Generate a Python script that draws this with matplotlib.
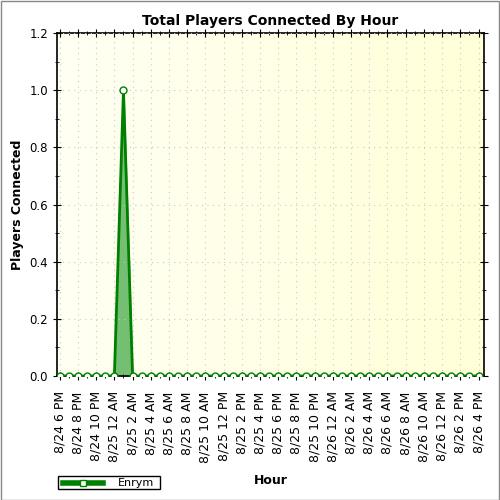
import numpy as np
import matplotlib.pyplot as plt
from matplotlib.lines import Line2D
from matplotlib.patches import Rectangle
from matplotlib.colors import LinearSegmentedColormap

# hours since 8/24 6 PM, one point per hour
horas = list(range(0, 47))
jugadores = [0] * 47
jugadores[7] = 1  # 8/25 1 AM

etiquetas = ["8/24 6 PM", "8/24 8 PM", "8/24 10 PM", "8/25 12 AM", "8/25 2 AM",
             "8/25 4 AM", "8/25 6 AM", "8/25 8 AM", "8/25 10 AM", "8/25 12 PM",
             "8/25 2 PM", "8/25 4 PM", "8/25 6 PM", "8/25 8 PM", "8/25 10 PM",
             "8/26 12 AM", "8/26 2 AM", "8/26 4 AM", "8/26 6 AM", "8/26 8 AM",
             "8/26 10 AM", "8/26 12 PM", "8/26 2 PM", "8/26 4 PM"]
posEti = list(range(0, 47, 2))

fig = plt.figure(figsize=(5, 5), dpi=100)
ax = fig.add_axes([0.114, 0.248, 0.854, 0.686])

xMin, xMax = -0.3, 46.6
gra = np.linspace(0, 1, 256).reshape(1, -1)
cmp = LinearSegmentedColormap.from_list("f", ["#fffff4", "#ffffd8"])
ax.imshow(gra, cmap=cmp, aspect="auto", extent=[xMin, xMax, 0, 1.2], zorder=0)

ax.fill_between(horas, jugadores, color="#66b866", alpha=0.9, zorder=2)
ax.plot(horas, jugadores, color="green", lw=2, marker="o", ms=5,
        mfc="white", mec="green", mew=1, zorder=3)

ax.set_xlim(xMin, xMax)
ax.set_ylim(0, 1.2)
ax.set_xticks(posEti)
ax.set_xticklabels(etiquetas, rotation=90, fontsize=9)
ax.set_xticks(horas, minor=True)
ax.set_yticks(np.arange(0, 1.21, 0.2))
ax.set_yticklabels([f"{v:.1f}" for v in np.arange(0, 1.21, 0.2)], fontsize=8.5)
ax.set_yticks(np.arange(0, 1.21, 0.1), minor=True)
ax.tick_params(which="both", top=True, right=True, direction="inout", length=6)
ax.tick_params(which="minor", length=3)
ax.tick_params(axis="x", which="major", pad=8)
ax.grid(True, color="#c8c8c8", ls=(0, (1, 4)), lw=0.8)
ax.set_axisbelow(False)
for s in ax.spines.values():
    s.set_linewidth(1.2)

ax.set_title("Total Players Connected By Hour", fontsize=10, fontweight="bold")
ax.set_xlabel("Hour", fontsize=9, fontweight="bold", labelpad=8)
ax.set_ylabel("Players Connected", fontsize=9, fontweight="bold")

fig.patches.append(Rectangle((0.115, 0.022), 0.204, 0.026, transform=fig.transFigure,
                             fill=False, ec="black", lw=1))
fig.lines.append(Line2D([0.125, 0.205], [0.035, 0.035], transform=fig.transFigure,
                        color="green", lw=4))
fig.lines.append(Line2D([0.165], [0.035], transform=fig.transFigure, color="green",
                        marker="s", ms=5, mfc="white", mec="green", ls="none"))
fig.text(0.235, 0.035, "Enrym", fontsize=8, va="center")

fig.patches.append(Rectangle((0.001, 0.001), 0.997, 0.997, transform=fig.transFigure,
                             fill=False, ec="#888888", lw=1))
fig.savefig("out.png")
